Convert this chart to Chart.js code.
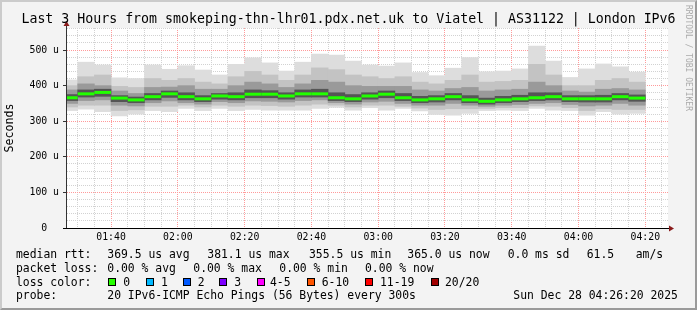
<!DOCTYPE html>
<html>
<head>
<meta charset="utf-8">
<script src="https://cdn.jsdelivr.net/npm/chart.js@4.4.1/dist/chart.umd.min.js"></script>
<style>
body { margin: 0; background: #f3f3f3; }
#wrap { position: relative; width: 697px; height: 310px; background: #f3f3f3; overflow: hidden;
  font-family: 'DejaVu Sans Mono', monospace; color: #000; }
#frame { position: absolute; left: 0; top: 0; width: 697px; height: 310px; box-sizing: border-box;
  border-style: solid; border-width: 2px; border-color: #cbcbcb #9a9a9a #9a9a9a #cbcbcb; }
canvas { position: absolute; left: 0; top: 0; }
#title { position: absolute; left: 0; top: 11.3px; width: 697px; text-align: center; font-size: 13.25px;
  line-height: 16px; white-space: pre; }
#credit { position: absolute; left: 684px; top: 5px; writing-mode: vertical-rl; font-size: 8px;
  line-height: 9px; color: #aaaaaa; white-space: pre; }
.t { position: absolute; white-space: pre; font-size: 11.4px; line-height: 14px; }
.r1 { top: 247.4px; } .r2 { top: 261.1px; } .r3 { top: 274.8px; } .r4 { top: 288.4px; }
.box { position: absolute; top: 277.7px; width: 8px; height: 8px; box-sizing: border-box; border: 1px solid #000; }
</style>
</head>
<body>
<div id="wrap">
  <div id="frame"></div>
  <canvas id="c" width="697" height="310"></canvas>
  <div id="title">Last 3 Hours from smokeping-thn-lhr01.pdx.net.uk to Viatel | AS31122 | London IPv6</div>
  <div id="credit">RRDTOOL / TOBI OETIKER</div>

  <span class="t r1" style="left:16px">median rtt:</span>
  <span class="t r1" style="left:107.3px">369.5 us avg</span>
  <span class="t r1" style="left:207.3px">381.1 us max</span>
  <span class="t r1" style="left:309px">355.5 us min</span>
  <span class="t r1" style="left:407.3px">365.0 us now</span>
  <span class="t r1" style="left:507.7px">0.0 ms sd</span>
  <span class="t r1" style="left:586.7px">61.5</span>
  <span class="t r1" style="left:635.7px">am/s</span>

  <span class="t r2" style="left:16px">packet loss:</span>
  <span class="t r2" style="left:107.3px">0.00 % avg</span>
  <span class="t r2" style="left:193.3px">0.00 % max</span>
  <span class="t r2" style="left:279.3px">0.00 % min</span>
  <span class="t r2" style="left:365px">0.00 % now</span>

  <span class="t r3" style="left:16px">loss color:</span>
  <span class="box" style="left:108.3px;background:#26ff00"></span><span class="t r3" style="left:123.3px">0</span>
  <span class="box" style="left:145.7px;background:#00b8ff"></span><span class="t r3" style="left:161px">1</span>
  <span class="box" style="left:182.7px;background:#0059ff"></span><span class="t r3" style="left:197.7px">2</span>
  <span class="box" style="left:219.3px;background:#7e00ff"></span><span class="t r3" style="left:234.3px">3</span>
  <span class="box" style="left:256.7px;background:#ff00ff"></span><span class="t r3" style="left:270px">4-5</span>
  <span class="box" style="left:307.3px;background:#ff5500"></span><span class="t r3" style="left:321.7px">6-10</span>
  <span class="box" style="left:365px;background:#ff0000"></span><span class="t r3" style="left:380px">11-19</span>
  <span class="box" style="left:431px;background:#a10000"></span><span class="t r3" style="left:445px">20/20</span>

  <span class="t r4" style="left:16px">probe:</span>
  <span class="t r4" style="left:107.3px">20 IPv6-ICMP Echo Pings (56 Bytes) every 300s</span>
  <span class="t r4" style="left:513.3px">Sun Dec 28 04:26:20 2025</span>
</div>
<script>
// end of each 5 minute step
const endTimes = ['01:30','01:35','01:40','01:45','01:50','01:55','02:00','02:05','02:10','02:15',
  '02:20','02:25','02:30','02:35','02:40','02:45','02:50','02:55','03:00','03:05',
  '03:10','03:15','03:20','03:25','03:30','03:35','03:40','03:45','03:50','03:55',
  '04:00','04:05','04:10','04:15','04:20'];

// rtt in microseconds
const maxRtt = [416,466,458,422,420,458,446,456,444,430,460,478,464,441,466,489,486,469,458,455,464,437,428,449,479,439,441,447,511,469,423,447,461,453,438];
const p90    = [400,425,430,398,395,420,415,420,410,405,425,440,430,415,430,450,445,430,425,420,425,410,405,415,430,410,412,415,460,430,400,400,415,420,410];
const p75    = [388,405,400,385,378,395,396,400,390,390,400,410,405,395,405,415,410,400,398,398,398,388,385,392,395,385,388,390,410,400,385,382,390,392,388];
const p60    = [375,388,390,372,368,378,385,380,372,378,380,388,386,380,388,390,380,375,380,385,378,370,372,378,372,365,370,373,380,380,372,372,373,378,374];
const median = [366,377,381,365,360,369,377,369,363,371,369,376,376,371,377,377,366,363,371,376,366,360,363,369,360,356,360,363,366,369,363,363,363,369,365];
const p40    = [358,368,370,355,352,360,367,360,355,362,360,366,366,362,368,368,358,355,362,366,358,352,354,360,352,348,352,355,358,360,355,354,354,360,356];
const p25    = [350,358,360,345,343,352,357,352,348,355,352,357,356,354,358,360,352,348,354,356,350,345,345,350,345,342,345,347,350,352,347,343,345,350,345];
const p10    = [340,345,345,330,332,342,342,345,340,345,342,345,344,342,345,348,345,340,345,345,342,337,333,335,335,336,338,338,343,342,338,330,335,333,333];
const minRtt = [330,334,327,315,320,330,327,336,330,336,330,333,331,331,331,336,339,331,338,331,336,329,319,317,322,330,331,330,336,331,330,317,327,320,322];

const xMajor = ['01:40','02:00','02:20','02:40','03:00','03:20','03:40','04:00','04:20'];
const yMajor = [0, 100, 200, 300, 400, 500];
const startTime = '01:26:48';
const yTop = 562;

const toMin = s => { const p = s.split(':').map(Number); return p[0] * 60 + p[1] + (p[2] || 0) / 60; };
const fmt = v => String(Math.floor(v / 60)).padStart(2, '0') + ':' + String(Math.round(v % 60)).padStart(2, '0');
const xMin = toMin(startTime), xMax = xMin + 180;
const centers = endTimes.map(t => toMin(t) - 2.5);

const bands = [
    {lo: p40, hi: p60, color: '#555555'},
    {lo: p25, hi: p75, color: '#9a9a9a'},
    {lo: p10, hi: p90, color: '#c3c3c3'},
    {lo: minRtt, hi: maxRtt, color: '#dddddd'}
];

const datasets = [{
    type: 'line',
    data: centers.map((x, i) => ({x: x, y: median[i]})),
    showLine: false,
    pointStyle: 'line',
    pointRadius: ctx => {
        const s = ctx.chart.scales.x;
        return (s.getPixelForValue(5) - s.getPixelForValue(0)) / 2;
    },
    pointBorderWidth: 3,
    pointBorderColor: '#22ff00',
    pointBackgroundColor: '#22ff00',
    clip: 0
}];
bands.forEach(b => datasets.push({
    type: 'bar',
    data: centers.map((x, i) => ({x: x, y: [b.lo[i], b.hi[i]]})),
    backgroundColor: b.color,
    borderWidth: 0,
    barPercentage: 1,
    categoryPercentage: 1,
    grouped: false,
    clip: 0
}));

const plotFrame = {
    id: 'plotFrame',
    beforeDraw(chart) {
        const {ctx, chartArea: a} = chart;
        ctx.save();
        ctx.fillStyle = '#ffffff';
        ctx.fillRect(a.left, a.top, a.right - a.left, a.bottom - a.top);
        ctx.restore();
    },
    afterDraw(chart) {
        const {ctx, chartArea: a} = chart;
        ctx.save();
        ctx.lineWidth = 1;
        ctx.strokeStyle = '#333333';
        ctx.beginPath();
        ctx.moveTo(a.left - 0.5, a.bottom + 1);
        ctx.lineTo(a.left - 0.5, a.top - 3);
        ctx.stroke();
        ctx.strokeStyle = '#000000';
        ctx.beginPath();
        ctx.moveTo(a.left - 4, a.bottom + 0.5);
        ctx.lineTo(a.right + 3, a.bottom + 0.5);
        ctx.stroke();
        ctx.fillStyle = '#8a1c1c';
        ctx.beginPath();
        ctx.moveTo(a.left - 0.5, a.top - 7);
        ctx.lineTo(a.left - 3.5, a.top - 2);
        ctx.lineTo(a.left + 2.5, a.top - 2);
        ctx.fill();
        ctx.beginPath();
        ctx.moveTo(a.right + 6, a.bottom + 0.5);
        ctx.lineTo(a.right + 1, a.bottom - 2.5);
        ctx.lineTo(a.right + 1, a.bottom + 3.5);
        ctx.fill();
        ctx.restore();
    }
};

const tickFont = {family: 'DejaVu Sans Mono', size: 9.8};

new Chart(document.getElementById('c'), {
    type: 'bar',
    data: {datasets: datasets},
    plugins: [plotFrame],
    options: {
        responsive: false,
        animation: false,
        devicePixelRatio: 1,
        events: [],
        layout: {padding: {top: 28, right: 29, left: 0, bottom: 0}},
        plugins: {legend: {display: false}, tooltip: {enabled: false}, title: {display: false}},
        scales: {
            x: {
                type: 'linear',
                min: xMin,
                max: xMax,
                offset: false,
                z: 1,
                afterFit: s => { s.height = 82; },
                afterBuildTicks: s => {
                    const t = [];
                    for (let v = Math.ceil(xMin / 5) * 5; v < xMax; v += 5) t.push({value: v});
                    s.ticks = t;
                },
                grid: {
                    offset: false,
                    drawTicks: false,
                    color: ctx => xMajor.includes(fmt(ctx.tick.value)) ? '#ff9a9a' : '#d2d2d2'
                },
                border: {display: false, dash: [1, 1]},
                ticks: {
                    autoSkip: false,
                    maxRotation: 0,
                    padding: 4,
                    color: '#000',
                    font: tickFont,
                    callback: v => xMajor.includes(fmt(v)) ? fmt(v) : ''
                }
            },
            y: {
                min: 0,
                max: yTop,
                z: 1,
                afterFit: s => { s.width = 67; },
                afterBuildTicks: s => {
                    const t = [];
                    for (let v = 0; v < yTop; v += 20) t.push({value: v});
                    s.ticks = t;
                },
                grid: {
                    drawTicks: true,
                    tickLength: 4,
                    tickColor: ctx => yMajor.includes(ctx.tick.value) ? '#333333' : 'rgba(0,0,0,0)',
                    color: ctx => yMajor.includes(ctx.tick.value) ? '#ff9a9a' : '#d2d2d2'
                },
                border: {display: false, dash: [1, 1]},
                title: {
                    display: true,
                    text: 'Seconds',
                    color: '#000',
                    padding: {top: 3, bottom: 0},
                    font: {family: 'DejaVu Sans Mono', size: 11.6}
                },
                ticks: {
                    autoSkip: false,
                    padding: 4,
                    color: '#000',
                    font: tickFont,
                    callback: v => v === 0 ? '0  ' : (yMajor.includes(v) ? v + ' u' : '')
                }
            }
        }
    }
});
</script>
</body>
</html>
